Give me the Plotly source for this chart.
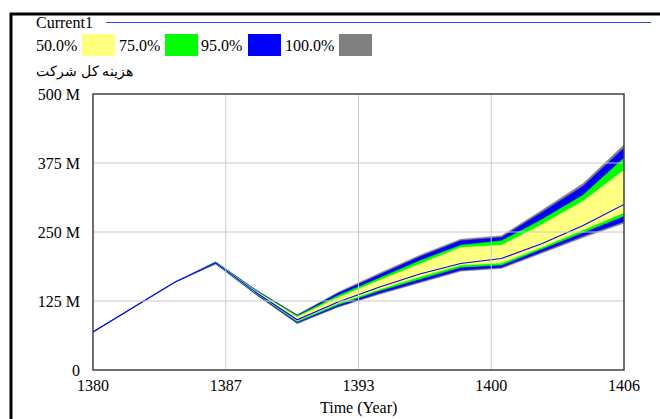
import plotly.graph_objects as go

# Simulation years (saved every 2 years)
years = [1380, 1382, 1384, 1386, 1388, 1390, 1392, 1394, 1396, 1398, 1400, 1402, 1404, 1406]

# Base run "Current1" (millions)
current1 = [69, 114, 159, 194, 140, 91, 123, 150, 174, 193, 202, 229, 262, 300]

# Sensitivity confidence bounds (millions)
max100 = [69, 114, 159, 196, 145, 100, 141, 175, 208, 237, 243, 290, 338, 408]
max95 = [69, 114, 159, 195.5, 144, 99, 139, 172, 205, 234, 240, 286, 333, 402]
max75 = [69, 114, 159, 195, 143, 98, 135, 166, 198, 226, 234, 273, 317, 384]
max50 = [69, 114, 159, 194.5, 142, 96, 131, 162, 192, 222, 226, 264, 306, 362]
min50 = [69, 114, 159, 193.5, 139, 89, 121, 146, 169, 190, 194, 223, 254, 285]
min75 = [69, 114, 159, 193, 138, 87.5, 118, 143, 165, 186, 190, 220, 249, 279]
min95 = [69, 114, 159, 192.5, 137, 85.5, 115, 139, 160, 181, 186, 214, 243, 269]
min100 = [69, 114, 159, 192, 136, 84, 114, 137, 158, 179, 184, 212, 240, 266]

band_labels = ["50.0%", "75.0%", "95.0%", "100.0%"]
band_colors = ["#ffff80", "#00ff00", "#0000ff", "#808080"]

y_tickvals = [0, 125, 250, 375, 500]
y_ticktext = ["0", "125 M", "250 M", "375 M", "500 M"]
x_tickvals = [1380, 1386.5, 1393, 1399.5, 1406]
x_ticktext = ["1380", "1387", "1393", "1400", "1406"]

M = 1e6
FONT = "Liberation Serif, Times New Roman, DejaVu Serif, serif"

W, H = 660, 419
L, R, T, B = 93, 36, 94, 49
PW, PH = W - L - R, H - T - B


def px(x):
    return (x - L) / PW


def py(y):
    return (H - B - y) / PH


fig = go.Figure()

bands = [
    (min100, max100, band_colors[3]),
    (min95, max95, band_colors[2]),
    (min75, max75, band_colors[1]),
    (min50, max50, band_colors[0]),
]
for lo, hi, col in bands:
    fig.add_trace(go.Scatter(
        x=years + years[::-1],
        y=[v * M for v in hi] + [v * M for v in lo[::-1]],
        fill="toself", fillcolor=col, mode="lines",
        line=dict(color=col, width=0.5),
        hoverinfo="skip", showlegend=False,
    ))

fig.add_trace(go.Scatter(
    x=years, y=[v * M for v in current1], mode="lines",
    line=dict(color="#0000ff", width=1.1), name="Current1", showlegend=False,
))

shapes = []
# grid drawn over the bands
for v in y_tickvals[1:-1]:
    shapes.append(dict(type="line", xref="paper", yref="y", x0=0, x1=1, y0=v * M, y1=v * M,
                       line=dict(color="#c8c8c8", width=1), layer="above"))
for v in x_tickvals[1:-1]:
    shapes.append(dict(type="line", xref="x", yref="paper", x0=v, x1=v, y0=0, y1=1,
                       line=dict(color="#c8c8c8", width=1), layer="above"))
# plot frame
shapes.append(dict(type="rect", xref="paper", yref="paper", x0=0, x1=1, y0=0, y1=1,
                   line=dict(color="#404040", width=1.5), layer="above"))
# outer window border
shapes.append(dict(type="rect", xref="paper", yref="paper",
                   x0=px(11), x1=px(720), y0=py(14), y1=py(460),
                   line=dict(color="black", width=3), layer="above"))
# Current1 legend line
shapes.append(dict(type="line", xref="paper", yref="paper", x0=px(106), x1=px(651),
                   y0=py(22.5), y1=py(22.5), line=dict(color="#3344ff", width=1)))

annotations = [
    dict(text="Current1", x=px(34), y=py(22.5), font=dict(size=16)),
    dict(text="هزینه کل شرکت", x=px(34), y=py(72), font=dict(size=14)),
    dict(text="Time (Year)", x=0.5, y=py(408), xanchor="center", font=dict(size=16)),
]
# band legend: label then swatch
label_x = [34, 117, 199, 283]
swatch_x = [82, 165, 248, 339]
for lab, lx, sx, col in zip(band_labels, label_x, swatch_x, band_colors):
    annotations.append(dict(text=lab, x=px(lx), y=py(45), font=dict(size=16)))
    shapes.append(dict(type="rect", xref="paper", yref="paper",
                       x0=px(sx), x1=px(sx + 33), y0=py(56), y1=py(34),
                       fillcolor=col, line=dict(width=0)))
for a in annotations:
    a["font"].update(family=FONT, color="black")
    a.setdefault("xanchor", "left")
    a.update(xref="paper", yref="paper", yanchor="middle", showarrow=False)

fig.update_layout(
    width=W, height=H,
    margin=dict(l=L, r=R, t=T, b=B, pad=0, autoexpand=False),
    paper_bgcolor="white", plot_bgcolor="white",
    font=dict(family=FONT, size=16, color="black"),
    shapes=shapes, annotations=annotations,
    xaxis=dict(range=[1380, 1406], tickvals=x_tickvals, ticktext=x_ticktext,
               showgrid=False, zeroline=False, showline=False, automargin=False,
               ticks="", ticklabelstandoff=4),
    yaxis=dict(range=[0, 500 * M], tickvals=[v * M for v in y_tickvals], ticktext=y_ticktext,
               showgrid=False, zeroline=False, showline=False, automargin=False,
               ticks="", ticklabelstandoff=12),
)

fig.write_html("out.html")
